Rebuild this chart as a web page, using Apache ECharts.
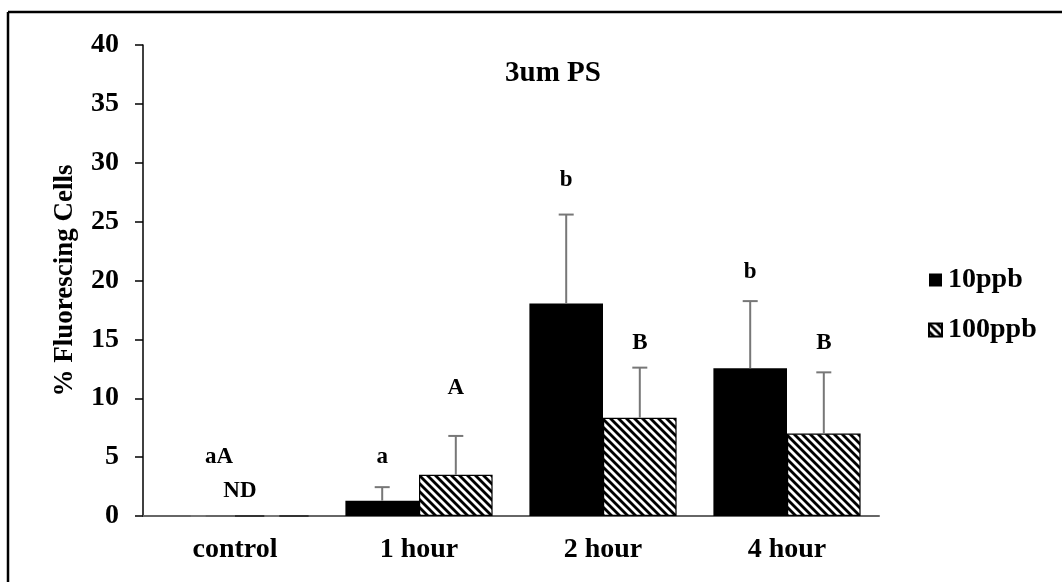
<!DOCTYPE html>
<html>
<head>
<meta charset="utf-8">
<script src="https://cdn.jsdelivr.net/npm/echarts@6/dist/echarts.min.js"></script>
<style>
  html, body { margin: 0; padding: 0; background: #fff; }
  #chart { width: 1062px; height: 582px; }
</style>
</head>
<body>
<div id="chart"></div>
<script>
// Exposure groups along the x axis
const categories = ['control', '1 hour', '2 hour', '4 hour'];
const seriesNames = ['10ppb', '100ppb'];

// Mean % fluorescing cells and standard deviation per group
const mean10 = [0, 1.3, 18.05, 12.55];
const sd10 = [0, 1.15, 7.55, 5.7];
const mean100 = [0, 3.5, 8.35, 7.0];
const sd100 = [0, 3.3, 4.25, 5.2];

// Y axis ticks
const yTicks = [0, 5, 10, 15, 20, 25, 30, 35, 40];

// Significance letters: group index, offset within the group (in bands), height, text
const letterGroup = [0, 0, 1, 1, 2, 2, 3, 3];
const letterOffset = [-0.087, 0.027, -0.2, 0.2, -0.2, 0.2, -0.2, 0.2];
const letterHeight = [5.0, 2.1, 5.0, 10.85, 28.5, 14.7, 20.75, 14.7];
const letterText = ['aA', 'ND', 'a', 'A', 'b', 'B', 'b', 'B'];

const serif = '"Liberation Serif", "Times New Roman", serif';

// Diagonal hatch used for the 100ppb bars
function makeHatch() {
  const c = document.createElement('canvas');
  c.width = 8; c.height = 8;
  const ctx = c.getContext('2d');
  ctx.fillStyle = '#fff';
  ctx.fillRect(0, 0, 8, 8);
  ctx.strokeStyle = '#000';
  ctx.lineWidth = 2.8;
  for (let k = -1; k <= 1; k++) {
    ctx.beginPath();
    ctx.moveTo(k * 8 - 2, -2);
    ctx.lineTo(k * 8 + 10, 10);
    ctx.stroke();
  }
  return c;
}
const hatch = makeHatch();

// Error bar rows: [group, mean, sd, side]
const errRows = [];
categories.forEach((_, i) => {
  errRows.push([i, mean10[i], sd10[i], -1]);
  errRows.push([i, mean100[i], sd100[i], 1]);
});

const letterRows = letterGroup.map((g, i) => [g, letterHeight[i], letterOffset[i]]);

const chart = echarts.init(document.getElementById('chart'), null, { renderer: 'canvas' });

chart.setOption({
  animation: false,
  backgroundColor: '#fff',
  title: {
    text: '3um PS',
    left: 548,
    top: 54,
    textAlign: 'center',
    textStyle: { fontFamily: serif, fontWeight: 'bold', fontSize: 29, color: '#000' }
  },
  legend: {
    orient: 'vertical',
    left: 923,
    top: 261,
    itemWidth: 13,
    itemHeight: 13,
    itemGap: 22,
    icon: 'rect',
    data: seriesNames,
    textStyle: { fontFamily: serif, fontWeight: 'bold', fontSize: 28, color: '#000', padding: [0, 0, 0, 1] }
  },
  grid: { left: 143, right: 183, top: 45, bottom: 66 },
  xAxis: {
    type: 'category',
    data: categories,
    axisLine: { lineStyle: { color: '#666', width: 2 } },
    axisTick: { show: false },
    axisLabel: {
      margin: 20,
      fontFamily: serif, fontWeight: 'bold', fontSize: 28, color: '#000'
    }
  },
  yAxis: {
    type: 'value',
    min: yTicks[0],
    max: yTicks[yTicks.length - 1],
    interval: yTicks[1] - yTicks[0],
    name: '% Fluorescing Cells',
    nameLocation: 'middle',
    nameGap: 64,
    nameTextStyle: { fontFamily: serif, fontWeight: 'bold', fontSize: 27, color: '#000' },
    axisLine: { show: true, lineStyle: { color: '#000', width: 1.5 } },
    axisTick: { show: true, inside: false, length: 8, lineStyle: { color: '#000', width: 1.5 } },
    splitLine: { show: false },
    axisLabel: {
      margin: 24,
      fontFamily: serif, fontWeight: 'bold', fontSize: 28, color: '#000'
    }
  },
  series: [
    {
      name: seriesNames[0],
      type: 'bar',
      data: mean10,
      barGap: '0%',
      barCategoryGap: '20%',
      itemStyle: { color: '#000', borderColor: '#000', borderWidth: 0 }
    },
    {
      name: seriesNames[1],
      type: 'bar',
      data: mean100,
      barGap: '0%',
      barCategoryGap: '20%',
      itemStyle: { color: { image: hatch, repeat: 'repeat' }, borderColor: '#000', borderWidth: 1.2 }
    },
    {
      type: 'custom',
      name: 'error',
      data: errRows,
      z: 5,
      silent: true,
      renderItem: function (params, api) {
        const band = api.size([1, 0])[0];
        const g = api.value(0);
        const m = api.value(1);
        const s = api.value(2);
        const side = api.value(3);
        const base = api.coord([g, m]);
        const top = api.coord([g, m + s]);
        const x = base[0] + side * band * 0.2;
        const style = { stroke: '#777', lineWidth: 2 };
        const children = [
          { type: 'line', shape: { x1: x - 7.5, y1: top[1], x2: x + 7.5, y2: top[1] }, style: style }
        ];
        if (s > 0) {
          children.push({ type: 'line', shape: { x1: x, y1: base[1], x2: x, y2: top[1] }, style: style });
        }
        return { type: 'group', children: children };
      }
    },
    {
      type: 'custom',
      name: 'letters',
      data: letterRows,
      z: 6,
      silent: true,
      renderItem: function (params, api) {
        const band = api.size([1, 0])[0];
        const p = api.coord([api.value(0), api.value(1)]);
        return {
          type: 'text',
          x: p[0] + api.value(2) * band,
          y: p[1],
          style: {
            text: letterText[params.dataIndex],
            fontFamily: serif,
            fontWeight: 'bold',
            fontSize: 23,
            fill: '#000',
            align: 'center',
            verticalAlign: 'middle'
          }
        };
      }
    }
  ],
  graphic: [
    { type: 'line', shape: { x1: 8, y1: 12, x2: 1062, y2: 12 }, style: { stroke: '#000', lineWidth: 2.5 } },
    { type: 'line', shape: { x1: 8, y1: 12, x2: 8, y2: 582 }, style: { stroke: '#000', lineWidth: 2.5 } }
  ]
});
</script>
</body>
</html>
